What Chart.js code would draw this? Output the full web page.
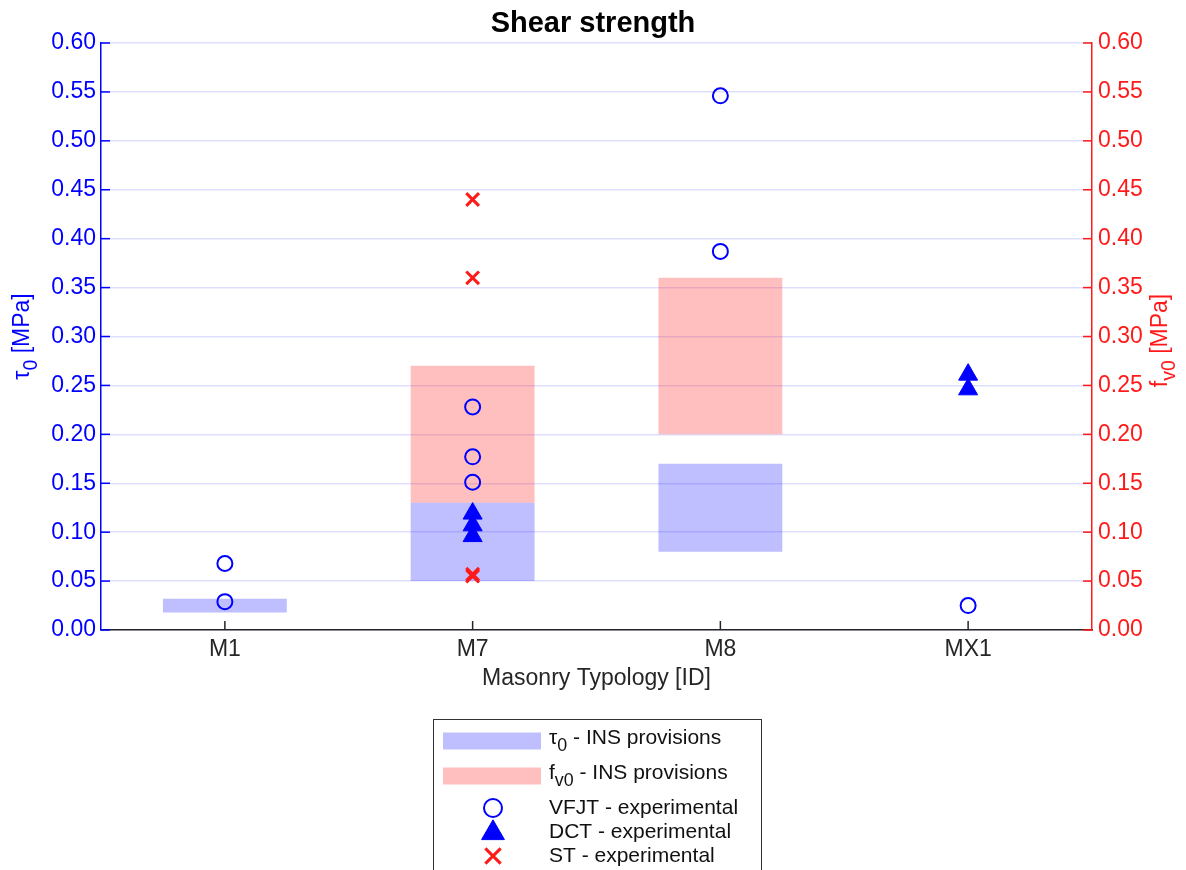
<!DOCTYPE html>
<html>
<head>
<meta charset="utf-8">
<title>Shear strength</title>
<script src="https://cdn.jsdelivr.net/npm/chart.js@4.4.1/dist/chart.umd.min.js"></script>
<style>
  html, body { margin: 0; padding: 0; background: #fff; }
  #wrap { width: 1186px; height: 870px; position: relative; }
</style>
</head>
<body>
<div id="wrap"><canvas id="myChart"></canvas></div>
<script>
// masonry typologies on the x axis
var categories = ['M1', 'M7', 'M8', 'MX1'];

// INS provision ranges [MPa]
var tauLow  = [0.018, 0.05, 0.08, null];
var tauHigh = [0.032, 0.13, 0.17, null];
var fvLow   = [null, 0.13, 0.20, null];
var fvHigh  = [null, 0.27, 0.36, null];

// experimental results [MPa]
var vfjtCat = ['M1', 'M1', 'M7', 'M7', 'M7', 'M8', 'M8', 'MX1'];
var vfjtVal = [0.068, 0.029, 0.228, 0.177, 0.151, 0.546, 0.387, 0.025];
var dctCat  = ['M7', 'M7', 'M7', 'MX1', 'MX1'];
var dctVal  = [0.119, 0.107, 0.096, 0.261, 0.246];
var stCat   = ['M7', 'M7', 'M7', 'M7'];
var stVal   = [0.44, 0.36, 0.057, 0.055];

// y ticks
var yMin = 0, yMax = 0.6, yStep = 0.05;

var BLUE = '#0000ff';
var RED = '#ff1a1a';
var DARK = '#262626';
var FONT = 'Arial, "Liberation Sans", Helvetica, sans-serif';

Chart.defaults.font.family = FONT;

function ranges(lo, hi) {
    return lo.map(function (v, i) { return v === null ? null : [v, hi[i]]; });
}
function points(cats, vals) {
    return cats.map(function (c, i) { return { x: c, y: vals[i] }; });
}

// text pieces: [text, isSubscript]
function drawRich(ctx, parts, x, y, rot, color, size, align) {
    ctx.save();
    ctx.translate(x, y);
    ctx.rotate(rot);
    ctx.fillStyle = color;
    ctx.textBaseline = 'middle';
    ctx.textAlign = 'left';
    var widths = parts.map(function (p) {
        ctx.font = (p[1] ? size * 0.85 : size) + 'px ' + FONT;
        return ctx.measureText(p[0]).width;
    });
    var total = widths.reduce(function (a, b) { return a + b; }, 0);
    var cx = align === 'left' ? 0 : -total / 2;
    parts.forEach(function (p, i) {
        ctx.font = (p[1] ? size * 0.85 : size) + 'px ' + FONT;
        ctx.fillText(p[0], cx, p[1] ? size * 0.38 : 0);
        cx += widths[i];
    });
    ctx.restore();
}

var extras = {
    id: 'extras',
    afterDraw: function (chart) {
        var ctx = chart.ctx;
        var a = chart.chartArea;
        var sy = chart.scales.y, sy2 = chart.scales.y2, sx = chart.scales.x;
        ctx.save();
        ctx.lineWidth = 1.5;
        // inward tick marks
        sy.ticks.forEach(function (t, i) {
            var py = sy.getPixelForTick(i);
            ctx.strokeStyle = BLUE;
            ctx.beginPath(); ctx.moveTo(a.left, py); ctx.lineTo(a.left + 9, py); ctx.stroke();
        });
        sy2.ticks.forEach(function (t, i) {
            var py = sy2.getPixelForTick(i);
            ctx.strokeStyle = RED;
            ctx.beginPath(); ctx.moveTo(a.right, py); ctx.lineTo(a.right - 9, py); ctx.stroke();
        });
        sx.ticks.forEach(function (t, i) {
            var px = sx.getPixelForTick(i);
            ctx.strokeStyle = DARK;
            ctx.beginPath(); ctx.moveTo(px, a.bottom); ctx.lineTo(px, a.bottom - 9); ctx.stroke();
        });
        ctx.restore();

        // axis titles
        var midY = (a.top + a.bottom) / 2;
        drawRich(ctx, [['τ', false], ['0', true], [' [MPa]', false]], 23, midY, -Math.PI / 2, BLUE, 23);
        drawRich(ctx, [['f', false], ['v0', true], [' [MPa]', false]], 1161, midY + 4, -Math.PI / 2, RED, 23);

        // legend box
        ctx.save();
        ctx.strokeStyle = '#333';
        ctx.lineWidth = 1;
        ctx.fillStyle = '#fff';
        ctx.fillRect(433.5, 719.5, 328, 200);
        ctx.strokeRect(433.5, 719.5, 328, 200);
        var y = 741;
        var prevSub = null;
        chart.data.datasets.forEach(function (ds, i) {
            var hasSub = ds.legendText.some(function (p) { return p[1]; });
            if (prevSub !== null) {
                y += prevSub && hasSub ? 35 : (prevSub ? 32 : 24);
            }
            prevSub = hasSub;
            if (ds.type === 'bar') {
                ctx.fillStyle = ds.backgroundColor;
                ctx.fillRect(443, y - 8.5, 98, 17);
            } else {
                // legend markers are drawn a little larger than the plotted ones
                ctx.fillStyle = ds.pointBackgroundColor;
                ctx.strokeStyle = ds.pointBorderColor;
                ctx.lineWidth = ds.pointBorderWidth;
                Chart.helpers.drawPoint(ctx, {
                    pointStyle: ds.pointStyle,
                    radius: ds.pointRadius * 1.2,
                    borderWidth: ds.pointBorderWidth,
                    rotation: 0
                }, 493, ds.pointStyle === 'triangle' ? y + 1 : y);
            }
            drawRich(ctx, ds.legendText, 549, hasSub ? y - 3 : y, 0, '#111', 21, 'left');
        });
        ctx.restore();
    }
};

function createChart() {
    var ctx = document.getElementById('myChart').getContext('2d');
    return new Chart(ctx, {
        data: {
            labels: categories,
            datasets: [{
                type: 'bar',
                legendText: [['τ', false], ['0', true], [' - INS provisions', false]],
                data: ranges(tauLow, tauHigh),
                backgroundColor: 'rgba(0,0,255,0.25)',
                yAxisID: 'y',
                grouped: false,
                barPercentage: 0.5,
                categoryPercentage: 1,
                order: 2
            }, {
                type: 'bar',
                legendText: [['f', false], ['v0', true], [' - INS provisions', false]],
                data: ranges(fvLow, fvHigh),
                backgroundColor: 'rgba(255,0,0,0.25)',
                yAxisID: 'y2',
                grouped: false,
                barPercentage: 0.5,
                categoryPercentage: 1,
                order: 2
            }, {
                type: 'line',
                legendText: [['VFJT - experimental', false]],
                data: points(vfjtCat, vfjtVal),
                showLine: false,
                pointStyle: 'circle',
                pointRadius: 7.5,
                pointBorderWidth: 2,
                pointBorderColor: BLUE,
                pointBackgroundColor: 'rgba(0,0,0,0)',
                yAxisID: 'y',
                order: 1
            }, {
                type: 'line',
                legendText: [['DCT - experimental', false]],
                data: points(dctCat, dctVal),
                showLine: false,
                pointStyle: 'triangle',
                pointRadius: 11,
                pointBorderWidth: 1,
                pointBorderColor: BLUE,
                pointBackgroundColor: BLUE,
                yAxisID: 'y',
                order: 1
            }, {
                type: 'line',
                legendText: [['ST - experimental', false]],
                data: points(stCat, stVal),
                showLine: false,
                pointStyle: 'crossRot',
                pointRadius: 9,
                pointBorderWidth: 3,
                pointBorderColor: RED,
                pointBackgroundColor: RED,
                yAxisID: 'y2',
                order: 1
            }]
        },
        options: {
            responsive: true,
            maintainAspectRatio: false,
            animation: false,
            layout: { padding: 0 },
            plugins: {
                legend: { display: false },
                tooltip: { enabled: false },
                title: {
                    display: true,
                    text: 'Shear strength',
                    color: '#000',
                    font: { size: 29, weight: 'bold' },
                    padding: { top: 7, bottom: 1.2 }
                }
            },
            scales: {
                x: {
                    type: 'category',
                    offset: true,
                    grid: { display: false, drawTicks: false },
                    border: { display: true, color: DARK, width: 1.5 },
                    ticks: { color: DARK, font: { size: 23 }, padding: 6 },
                    title: {
                        display: true,
                        text: 'Masonry Typology [ID]',
                        color: DARK,
                        font: { size: 23 },
                        padding: { top: 0, bottom: 178 }
                    },
                    afterFit: function (s) { s.height = 240; }
                },
                y: {
                    position: 'left',
                    min: yMin, max: yMax,
                    grid: { color: 'rgba(0,0,255,0.13)', lineWidth: 1.5, drawTicks: false },
                    border: { color: BLUE, width: 1.5 },
                    ticks: {
                        stepSize: yStep, color: BLUE, font: { size: 23 }, padding: 5,
                        callback: function (v) { return v.toFixed(2); }
                    },
                    afterFit: function (s) { s.width = 101; }
                },
                y2: {
                    position: 'right',
                    min: yMin, max: yMax,
                    grid: { drawOnChartArea: false, drawTicks: false },
                    border: { color: RED, width: 1.5 },
                    ticks: {
                        stepSize: yStep, color: RED, font: { size: 23 }, padding: 6,
                        callback: function (v) { return v.toFixed(2); }
                    },
                    afterFit: function (s) { s.width = 94; }
                }
            }
        },
        plugins: [extras]
    });
}

document.addEventListener('DOMContentLoaded', function () {
    createChart();
});
</script>
</body>
</html>
